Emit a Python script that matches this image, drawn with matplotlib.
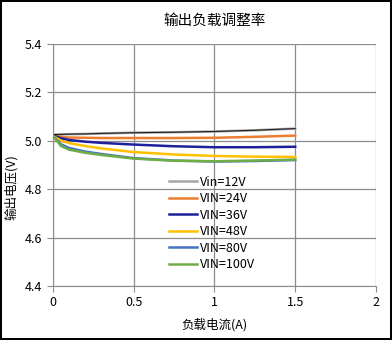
import matplotlib.pyplot as plt

plt.rcParams['font.family'] = ['Noto Sans CJK SC', 'DejaVu Sans']

load = [0, 0.05, 0.1, 0.2, 0.3, 0.5, 0.75, 1.0, 1.25, 1.5]
v12 = [5.025, 5.026, 5.027, 5.028, 5.030, 5.033, 5.035, 5.038, 5.043, 5.050]
v24 = [5.022, 5.016, 5.013, 5.012, 5.011, 5.011, 5.011, 5.012, 5.016, 5.021]
v36 = [5.022, 5.010, 5.003, 4.996, 4.991, 4.984, 4.977, 4.973, 4.973, 4.975]
v48 = [5.020, 5.000, 4.990, 4.978, 4.968, 4.953, 4.943, 4.937, 4.934, 4.933]
v80 = [5.020, 4.985, 4.970, 4.955, 4.945, 4.928, 4.918, 4.914, 4.916, 4.920]
v100 = [5.020, 4.978, 4.963, 4.950, 4.941, 4.926, 4.917, 4.915, 4.918, 4.922]
labels = ['Vin=12V', 'VIN=24V', 'VIN=36V', 'VIN=48V', 'VIN=80V', 'VIN=100V']
colors = ['#a5a5a5', '#ed7d31', '#1f1f9c', '#ffc000', '#4472c4', '#70ad47']

fig = plt.figure(figsize=(3.92, 3.40), dpi=100)
fig.patch.set_edgecolor('black')
fig.patch.set_linewidth(1.5)
ax = fig.add_axes([0.135, 0.159, 0.824, 0.712])

for vals, lab, c in zip([v12, v24, v36, v48, v80, v100], labels, colors):
    ax.plot(load, vals, color=c, lw=1.8, label=lab)
# dark core of the 12V trace as seen in the reference
ax.plot(load, v12, color='#202020', lw=0.8)

ax.set_xlim(0, 2)
ax.set_ylim(4.4, 5.4)
ax.set_xticks([0, 0.5, 1, 1.5, 2])
ax.set_xticklabels(['0', '0.5', '1', '1.5', '2'])
ax.set_yticks([4.4, 4.6, 4.8, 5.0, 5.2, 5.4])
ax.set_yticklabels(['4.4', '4.6', '4.8', '5.0', '5.2', '5.4'])
ax.grid(True, color='#8c8c8c', lw=0.9)
ax.set_axisbelow(True)
for s in ['top', 'right']:
    ax.spines[s].set_visible(False)
for s in ['left', 'bottom']:
    ax.spines[s].set_color('#8c8c8c')
ax.tick_params(colors='#8c8c8c', labelcolor='black', labelsize=9, length=4)

ax.set_title('输出负载调整率', fontsize=10.5, pad=14)
ax.set_xlabel('负载电流(A)', fontsize=9, labelpad=6)
ax.set_ylabel('输出电压(V)', fontsize=9)
ax.yaxis.set_label_coords(-0.108, 0.41)

ax.legend(loc='upper left', bbox_to_anchor=(0.36, 0.455), frameon=False,
          fontsize=9, handlelength=2.2, handletextpad=0.3, labelspacing=0.28,
          borderaxespad=0, borderpad=0)

fig.savefig('out.png', dpi=100)
